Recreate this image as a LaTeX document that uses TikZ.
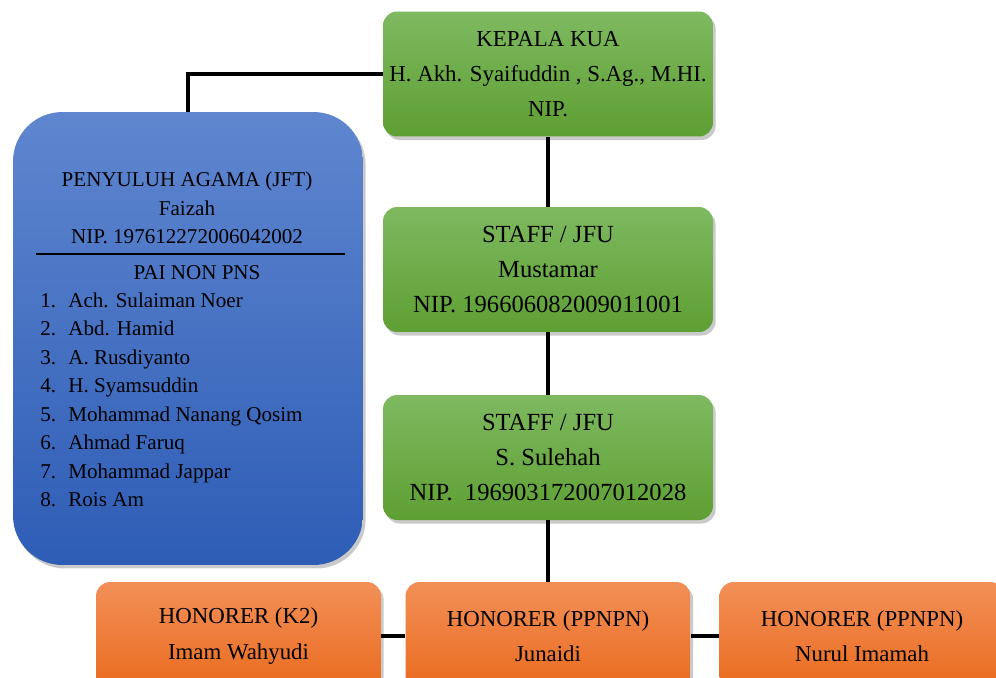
\documentclass[tikz,border=0pt]{standalone}
\usepackage{fontspec}
\setmainfont{Liberation Serif}
\usetikzlibrary{shadows}
\definecolor{greentop}{HTML}{7EB960}
\definecolor{greenbot}{HTML}{5E9F33}
\definecolor{bluetop}{HTML}{5F86CF}
\definecolor{bluebot}{HTML}{2E5DB6}
\definecolor{orangetop}{HTML}{F28F57}
\definecolor{orangebot}{HTML}{EA6B1E}
\tikzset{
  boxshadow/.style={drop shadow={shadow xshift=1.5pt,shadow yshift=-2pt,opacity=.3,fill=black!70}},
  greenbox/.style={rounded corners=8pt,top color=greentop,bottom color=greenbot,boxshadow,
    minimum width=6.6cm,minimum height=2.5cm,align=center,font=\fontsize{14}{20}\selectfont},
  orangebox/.style={rounded corners=8pt,top color=orangetop,bottom color=orangebot,boxshadow,
    minimum width=5.7cm,minimum height=2.16cm,align=center,font=\fontsize{13}{20}\selectfont},
  bluebox/.style={rounded corners=28pt,top color=bluetop,bottom color=bluebot,boxshadow,
    minimum width=7cm,minimum height=9.06cm},
  listtext/.style={inner sep=0pt,font=\fontsize{12}{16}\selectfont},
  link/.style={line width=2pt}
}
\begin{document}
\begin{tikzpicture}[x=0.02cm,y=-0.02cm]
    \clip (0,0) rectangle (996,677);
    % boxes
    \node[greenbox,font=\fontsize{13}{20}\selectfont] (kepala) at (548,74) {KEPALA KUA\\H. Akh. Syaifuddin , S.Ag., M.HI.\\NIP.};
    \node[greenbox] (staffa) at (548,269.5) {STAFF / JFU\\Mustamar\\NIP. 196606082009011001};
    \node[greenbox] (staffb) at (548,457.5) {STAFF / JFU\\S. Sulehah\\NIP.\ \ 196903172007012028};
    \node[bluebox] (pai) at (188,338.5) {};
    \node[orangebox] (honora) at (238.5,636) {HONORER (K2)\\Imam Wahyudi};
    \node[orangebox] (honorb) at (548,636) {HONORER (PPNPN)\\Junaidi};
    \node[orangebox] (honorc) at (862,636) {HONORER (PPNPN)\\Nurul Imamah};
    % penyuluh
    \node[listtext,align=center,anchor=north] (jft) at (187,172) {PENYULUH AGAMA (JFT)\\Faizah\\NIP. 197612272006042002};
    \coordinate (rulel) at (36,254);
    \coordinate (ruler) at (345,254);
    \draw[line width=1.4pt] (rulel) -- (ruler);
    \node[listtext,anchor=base] (nonpns) at (197,279) {PAI NON PNS};
    \foreach \name [count=\i] in {Ach. Sulaiman Noer,Abd. Hamid,A. Rusdiyanto,H. Syamsuddin,
        Mohammad Nanang Qosim,Ahmad Faruq,Mohammad Jappar,Rois Am}{
        \node[listtext,anchor=base west] (num\i) at (40,307+28.5*\i-28.5) {\i.};
        \node[listtext,anchor=base west] (name\i) at (68,307+28.5*\i-28.5) {\name};
    }
    % connectors
    \draw[link] (kepala.west) -| (pai.north);
    \draw[link] (kepala.south) -- (staffa.north);
    \draw[link] (staffa.south) -- (staffb.north);
    \draw[link] (staffb.south) -- (honorb.north);
    \draw[link] (honora.east) -- (honorb.west);
    \draw[link] (honorb.east) -- (honorc.west);
\end{tikzpicture}
\end{document}
